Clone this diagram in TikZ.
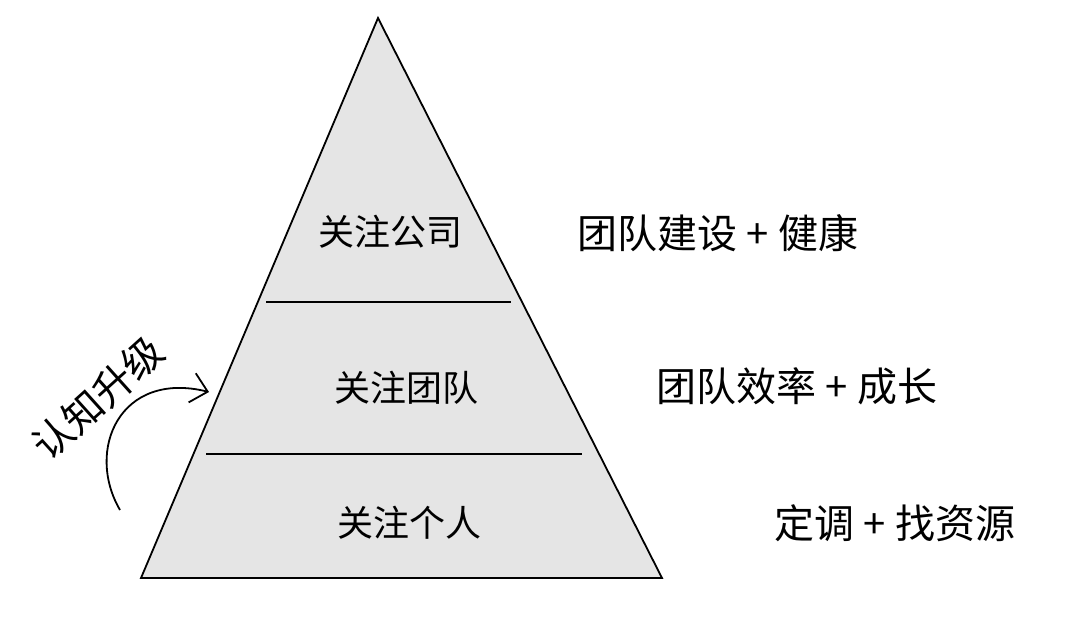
\documentclass[tikz,border=0pt]{standalone}
\usepackage{tikz}
\usetikzlibrary{arrows.meta}
\usepackage{fontspec}
\newfontfamily\cjk{Noto Sans CJK SC}
\usepackage{xcolor}
\definecolor{pyramidfill}{HTML}{E5E5E5}
\tikzstyle{level} = [
font=\cjk\fontsize{36}{40}\selectfont,
inner sep=0pt
]
\tikzstyle{note} = [
font=\cjk\fontsize{40}{44}\selectfont,
inner sep=0pt
]
\tikzstyle{divider} = [
line width=1.6pt
]
\tikzstyle{arrow}=[line width=1.8pt,-{Straight Barb[length=16pt,width=30pt]}]

\begin{document}
\begin{tikzpicture}[x=1pt,y=-1pt]
        \useasboundingbox (0,0) rectangle (1080,630);

        % pyramid
        \coordinate (apex) at (378,18);
        \coordinate (baseL) at (141,578);
        \coordinate (baseR) at (662,578);
        \filldraw[fill=pyramidfill,line width=1.8pt,line join=miter]
        (apex)--(baseL)--(baseR)--cycle;

        \coordinate (upL) at (266,302);
        \coordinate (upR) at (511,302);
        \coordinate (lowL) at (206,454);
        \coordinate (lowR) at (582,454);
        \draw[divider] (upL)--(upR);
        \draw[divider] (lowL)--(lowR);

        % levels
        \node(company)[level] at (390,232)
        {关注公司};

        \node(team)[level] at (406,388)
        {关注团队};

        \node(person)[level] at (409,523)
        {关注个人};

        % notes
        \node(health)[note] at (718,233)
        {团队建设 + 健康};

        \node(growth)[note] at (797,386)
        {团队效率 + 成长};

        \node(resource)[note] at (895,523)
        {定调 + 找资源};

        % upgrade
        \node(upgrade)[note,rotate=42] at (98,398)
        {认知升级};

        \coordinate (curveStart) at (120,510);
        \coordinate (curveEnd) at (209,392);
        \draw[arrow]
        (curveStart) .. controls (85,450) and (120,370) .. (curveEnd);

        \end{tikzpicture}
\end{document}
